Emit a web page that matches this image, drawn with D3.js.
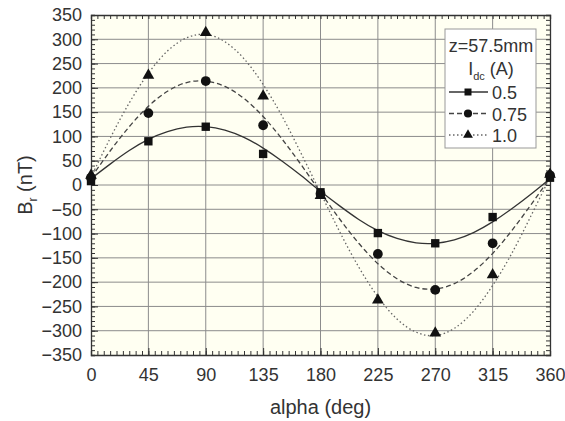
<!DOCTYPE html>
<html>
<head>
<meta charset="utf-8">
<script src="https://cdn.jsdelivr.net/npm/d3@7"></script>
<style>
  body { margin: 0; background: #fff; }
  svg text { font-family: "Liberation Sans", Arial, sans-serif; fill: #333; }
</style>
</head>
<body>
<div id="chart"></div>
<script>
// measured points
var angles = [0, 45, 90, 135, 180, 225, 270, 315, 360];
var pts05 = [8, 90, 120, 64, -15, -99, -120, -66, 15];
var pts075 = [15, 148, 214, 123, -18, -142, -216, -120, 20];
var pts10 = [20, 226, 314, 183, -22, -237, -305, -185, 22];

// fitted curves, read every 15 deg
var curveAngles = [0, 15, 30, 45, 60, 75, 90, 105, 120, 135, 150, 165, 180,
                   195, 210, 225, 240, 255, 270, 285, 300, 315, 330, 345, 360];
var fit05 = [13, 43, 71, 94, 110, 119, 120, 113, 98, 76, 49, 19, -13,
             -43, -71, -94, -110, -119, -120, -113, -98, -76, -49, -19, 13];
var fit075 = [15, 70, 120, 162, 193, 211, 214, 203, 178, 141, 94, 41, -15,
              -70, -120, -162, -193, -211, -214, -203, -178, -141, -94, -41, 15];
var fit10 = [16, 96, 169, 230, 276, 303, 310, 295, 260, 207, 141, 64, -16,
             -96, -169, -230, -276, -303, -310, -295, -260, -207, -141, -64, 16];

var xTicks = [0, 45, 90, 135, 180, 225, 270, 315, 360];
var yTicks = d3.range(-350, 351, 50);
var seriesNames = ["0.5", "0.75", "1.0"];

function init() {
    var width = 565, height = 421;
    var margin = { top: 15, right: 15, bottom: 66, left: 91 };
    var w = width - margin.left - margin.right;
    var h = height - margin.top - margin.bottom;

    var svg = d3.select("#chart").append("svg")
        .attr("width", width)
        .attr("height", height);

    var g = svg.append("g")
        .attr("transform", "translate(" + margin.left + "," + margin.top + ")");

    var x = d3.scaleLinear().domain([0, 360]).range([0, w]);
    var y = d3.scaleLinear().domain([-350, 350]).range([h, 0]);

    // plot background
    g.append("rect")
        .attr("width", w).attr("height", h)
        .attr("fill", "#fffff2");

    // grid
    g.selectAll(".vgrid").data(xTicks.slice(1, -1)).enter().append("line")
        .attr("x1", function(d) { return x(d); })
        .attr("x2", function(d) { return x(d); })
        .attr("y1", 0).attr("y2", h)
        .attr("stroke", "#8c8c8c").attr("stroke-width", 1);
    g.selectAll(".hgrid").data(yTicks.slice(1, -1)).enter().append("line")
        .attr("y1", function(d) { return y(d); })
        .attr("y2", function(d) { return y(d); })
        .attr("x1", 0).attr("x2", w)
        .attr("stroke", "#8c8c8c").attr("stroke-width", 1);

    // minor + major ticks, inward, on all four sides
    var xMinor = d3.range(0, 361, 5);
    var yMinor = d3.range(-350, 351, 10);
    var xAxisB = d3.axisBottom(x).tickValues(xMinor).tickSize(-4).tickFormat("");
    var xAxisT = d3.axisTop(x).tickValues(xMinor).tickSize(-4).tickFormat("");
    var yAxisL = d3.axisLeft(y).tickValues(yMinor).tickSize(-4).tickFormat("");
    var yAxisR = d3.axisRight(y).tickValues(yMinor).tickSize(-4).tickFormat("");

    g.append("g").attr("transform", "translate(0," + h + ")").call(xAxisB);
    g.append("g").call(xAxisT);
    g.append("g").call(yAxisL);
    g.append("g").attr("transform", "translate(" + w + ",0)").call(yAxisR);

    // major tick labels
    var xLab = d3.axisBottom(x).tickValues(xTicks).tickSize(-7).tickPadding(13);
    var yLab = d3.axisLeft(y).tickValues(yTicks).tickSize(-7).tickPadding(9);
    var gx = g.append("g").attr("transform", "translate(0," + h + ")").call(xLab);
    var gy = g.append("g").call(yLab);
    [gx, gy].forEach(function(a) {
        a.select(".domain").remove();
        a.selectAll("text").style("font-size", "18px").attr("fill", "#333")
            .style("font-family", "Liberation Sans, Arial, sans-serif");
    });

    g.selectAll(".domain").attr("stroke", "#333").attr("stroke-width", 1.3);
    g.selectAll(".tick line").attr("stroke", "#333");

    // curves
    var styles = [
        { fit: fit05, pts: pts05, dash: null, color: "#333", shape: d3.symbolSquare, size: 70 },
        { fit: fit075, pts: pts075, dash: "5,3", color: "#444", shape: d3.symbolCircle, size: 75 },
        { fit: fit10, pts: pts10, dash: "1.5,2.5", color: "#666", shape: d3.symbolTriangle, size: 60 }
    ];

    var line = d3.line()
        .x(function(d) { return x(d[0]); })
        .y(function(d) { return y(d[1]); })
        .curve(d3.curveNatural);

    styles.forEach(function(s) {
        g.append("path")
            .datum(d3.zip(curveAngles, s.fit))
            .attr("d", line)
            .attr("fill", "none")
            .attr("stroke", s.color)
            .attr("stroke-width", 1.3)
            .attr("stroke-dasharray", s.dash);
    });

    styles.forEach(function(s) {
        g.selectAll(null).data(d3.zip(angles, s.pts)).enter().append("path")
            .attr("d", d3.symbol().type(s.shape).size(s.size))
            .attr("transform", function(d) { return "translate(" + x(d[0]) + "," + y(d[1]) + ")"; })
            .attr("fill", "#111");
    });

    // legend
    var lg = svg.append("g").attr("transform", "translate(445,29)");
    lg.append("rect")
        .attr("width", 91).attr("height", 119)
        .attr("fill", "#fff").attr("stroke", "#999").attr("stroke-width", 1);
    lg.append("text").attr("x", 46).attr("y", 23)
        .attr("text-anchor", "middle").style("font-size", "18px").text("z=57.5mm");
    var t2 = lg.append("text").attr("x", 46).attr("y", 46)
        .attr("text-anchor", "middle").style("font-size", "18px");
    t2.append("tspan").text("I");
    t2.append("tspan").attr("dy", 5).style("font-size", "11px").text("dc");
    t2.append("tspan").attr("dy", -5).text(" (A)");

    styles.forEach(function(s, i) {
        var yy = 63 + i * 21.5;
        lg.append("line")
            .attr("x1", 4).attr("x2", 43).attr("y1", yy).attr("y2", yy)
            .attr("stroke", s.color).attr("stroke-width", 1.3)
            .attr("stroke-dasharray", s.dash);
        lg.append("path")
            .attr("d", d3.symbol().type(s.shape).size(s.size * 0.7))
            .attr("transform", "translate(23," + yy + ")")
            .attr("fill", "#111");
        lg.append("text").attr("x", 47).attr("y", yy + 7)
            .style("font-size", "18px").text(seriesNames[i]);
    });

    // axis titles
    svg.append("text")
        .attr("x", margin.left + w / 2).attr("y", 414)
        .attr("text-anchor", "middle").style("font-size", "20px")
        .text("alpha (deg)");

    var yt = svg.append("text")
        .attr("transform", "translate(32," + (margin.top + h / 2) + ") rotate(-90)")
        .attr("text-anchor", "middle").style("font-size", "20px");
    yt.append("tspan").text("B");
    yt.append("tspan").attr("dy", 5).style("font-size", "12px").text("r");
    yt.append("tspan").attr("dy", -5).text(" (nT)");
}

window.onload = init;
</script>
</body>
</html>
